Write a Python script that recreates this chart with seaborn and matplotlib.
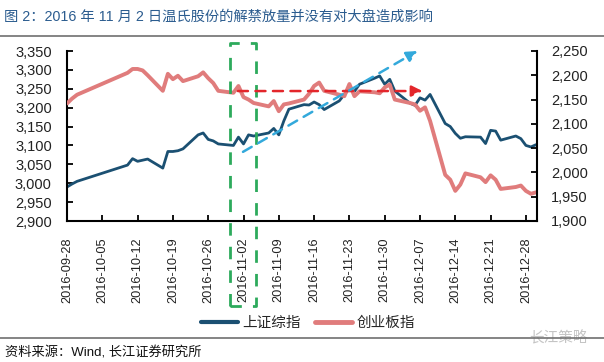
import numpy as np
import pandas as pd
import matplotlib
matplotlib.use('Agg')
import matplotlib.pyplot as plt
import matplotlib.dates as mdates
import matplotlib.transforms as mtransforms
from matplotlib.lines import Line2D
import seaborn as sns

# ---------------- data ----------------
dates = ['2016-09-28', '2016-09-29', '2016-09-30',
         '2016-10-10', '2016-10-11', '2016-10-12', '2016-10-13', '2016-10-14',
         '2016-10-17', '2016-10-18', '2016-10-19', '2016-10-20', '2016-10-21',
         '2016-10-24', '2016-10-25', '2016-10-26', '2016-10-27', '2016-10-28',
         '2016-10-31', '2016-11-01', '2016-11-02', '2016-11-03', '2016-11-04',
         '2016-11-07', '2016-11-08', '2016-11-09', '2016-11-10', '2016-11-11',
         '2016-11-14', '2016-11-15', '2016-11-16', '2016-11-17', '2016-11-18',
         '2016-11-21', '2016-11-22', '2016-11-23', '2016-11-24', '2016-11-25',
         '2016-11-28', '2016-11-29', '2016-11-30', '2016-12-01', '2016-12-02',
         '2016-12-05', '2016-12-06', '2016-12-07', '2016-12-08', '2016-12-09',
         '2016-12-12', '2016-12-13', '2016-12-14', '2016-12-15', '2016-12-16',
         '2016-12-19', '2016-12-20', '2016-12-21', '2016-12-22', '2016-12-23',
         '2016-12-26', '2016-12-27', '2016-12-28', '2016-12-29', '2016-12-30']

sh_index = [2990, 2998, 3005,
            3048, 3065, 3058, 3061, 3064,
            3040, 3084, 3084, 3086, 3091,
            3128, 3133, 3116, 3112, 3104,
            3100, 3122, 3104, 3128, 3125,
            3133, 3145, 3128, 3165, 3196,
            3208, 3207, 3215, 3208, 3195,
            3218, 3235, 3250, 3243, 3262,
            3278, 3284, 3262, 3275, 3244,
            3212, 3206, 3226, 3220, 3235,
            3158, 3150, 3132, 3119, 3123,
            3122, 3105, 3140, 3138, 3114,
            3125, 3118, 3100, 3096, 3102]

cyb_index = [2142, 2152, 2160,
             2205, 2213, 2213, 2210, 2200,
             2168, 2203, 2192, 2199, 2188,
             2198, 2206, 2194, 2184, 2168,
             2164, 2178, 2155, 2150, 2143,
             2136, 2147, 2126, 2140, 2142,
             2150, 2162, 2178, 2185, 2168,
             2160, 2157, 2182, 2157, 2167,
             2165, 2163, 2175, 2181, 2150,
             2143, 2140, 2127, 2134, 2106,
             1995, 1985, 1962, 1975, 1998,
             1990, 1980, 1994, 1985, 1966,
             1970, 1973, 1962, 1956, 1959]

series_names = ['上证综指', '创业板指']
tick_dates = pd.date_range('2016-09-28', '2016-12-28', freq='7D')
left_ticks = list(range(2900, 3351, 50))
right_ticks = list(range(1900, 2251, 50))

title = '图 2：2016 年 11 月 2 日温氏股份的解禁放量并没有对大盘造成影响'
source = '资料来源：Wind, 长江证券研究所'
watermark = '长江策略'

# ---------------- style ----------------
sns.set_theme(style='white')
plt.rcParams['font.family'] = ['Liberation Sans', 'Noto Sans CJK SC', 'DejaVu Sans']
plt.rcParams['axes.unicode_minus'] = False

blue = '#1B5072'
red = '#E07C7C'
green = '#2DAA5C'
cyan = '#33A9DB'
arrow_red = '#E3262B'

df = pd.DataFrame({'date': pd.to_datetime(dates),
                   series_names[0]: sh_index,
                   series_names[1]: cyb_index})

fig = plt.figure(figsize=(6.04, 3.62), dpi=100)
ax = fig.add_axes([67 / 604, 1 - 221 / 362, (537 - 67) / 604, (221 - 51) / 362])
ax2 = ax.twinx()

sns.lineplot(data=df, x='date', y=series_names[0], ax=ax, color=blue, lw=2.0, legend=False)
sns.lineplot(data=df, x='date', y=series_names[1], ax=ax2, color=red, lw=2.8, legend=False)

d0 = pd.Timestamp('2016-09-28')
ax.set_xlim(mdates.date2num(d0), mdates.date2num(pd.Timestamp('2016-12-30')) + 0.2)
ax.set_ylim(2900, 3350)
ax2.set_ylim(1900, 2250)
ax.set_yticks(left_ticks)
ax2.set_yticks(right_ticks)
ax.set_yticklabels([f'{v:,}' for v in left_ticks])
ax2.set_yticklabels([f'{v:,}' for v in right_ticks])
ax.set_xticks(mdates.date2num(tick_dates))
ax.set_xticklabels([d.strftime('%Y-%m-%d') for d in tick_dates], rotation=90)
ax.set_xlabel('')
ax.set_ylabel('')
ax2.set_ylabel('')

for a in (ax, ax2):
    a.grid(False)
    a.spines['top'].set_visible(False)
    for s in ('left', 'right', 'bottom'):
        a.spines[s].set_color('black')
        a.spines[s].set_linewidth(1.5)
ax.spines['right'].set_visible(False)
ax2.spines['left'].set_visible(False)
ax2.spines['bottom'].set_visible(False)

ax.tick_params(axis='y', direction='in', length=4, width=1.3, color='black',
               labelsize=10.5, pad=11, labelcolor='#222222', left=True)
ax.tick_params(axis='x', direction='in', length=4, width=1.3, color='black',
               labelsize=9.2, pad=12, labelcolor='#222222', bottom=True)
ax2.tick_params(axis='y', direction='in', length=4, width=1.3, color='black',
                labelsize=10.5, pad=10, labelcolor='#222222', right=True)

# ---------------- annotations ----------------
def dn(days):
    return mdates.date2num(d0) + days

# green dashed box around 2016-11-02
trans = mtransforms.blended_transform_factory(ax.transData, ax.transAxes)
xl, xr = dn(32.4), dn(37.5)
yb, yt = -0.50, 1.045
ax2.plot([xl, xl, xr, xr, xl], [yb, yt, yt, yb, yb], transform=trans,
         clip_on=False, color=green, lw=2.0, ls=(0, (4.5, 4)), zorder=10)

# red horizontal arrow
ax2.annotate('', xy=(dn(70.5), 3244), xytext=(dn(33.9), 3244),
             xycoords=ax.transData, textcoords=ax.transData,
             arrowprops=dict(arrowstyle='-|>', color=arrow_red, lw=1.8,
                             ls=(0, (4, 3)), mutation_scale=16,
                             shrinkA=0, shrinkB=0),
             annotation_clip=False, zorder=11)

# cyan rising arrow
ax2.annotate('', xy=(dn(69.5), 3350), xytext=(dn(34.9), 3083),
             xycoords=ax.transData, textcoords=ax.transData,
             arrowprops=dict(arrowstyle='-|>', color=cyan, lw=1.8,
                             ls=(0, (4, 3)), mutation_scale=16,
                             shrinkA=0, shrinkB=0),
             annotation_clip=False, zorder=11)

# ---------------- legend ----------------
handles = [Line2D([0], [0], color=blue, lw=3.0), Line2D([0], [0], color=red, lw=3.5)]
fig.legend(handles, series_names, loc='center', bbox_to_anchor=(0.51, 1 - 323 / 362),
           ncol=2, frameon=False, fontsize=10.5, handlelength=2.5,
           handletextpad=0.3, columnspacing=1.0)

# ---------------- header / footer ----------------
fig.text(4 / 604, 1 - 17 / 362, title, fontsize=10.3, color='#2B5C8F', va='center', ha='left')
fig.add_artist(Line2D([0, 1], [1 - 36 / 362] * 2, color='#707070', lw=1.2))
fig.add_artist(Line2D([0, 1], [1 - 338 / 362] * 2, color='#707070', lw=1.2))
fig.text(588 / 604, 1 - 338 / 362, watermark, fontsize=10.5, color='#C4C4C4',
         va='center', ha='right', zorder=0)
fig.text(5 / 604, 1 - 353 / 362, source, fontsize=9.5, color='#111111', va='center', ha='left')

fig.savefig('out.png', dpi=100)
